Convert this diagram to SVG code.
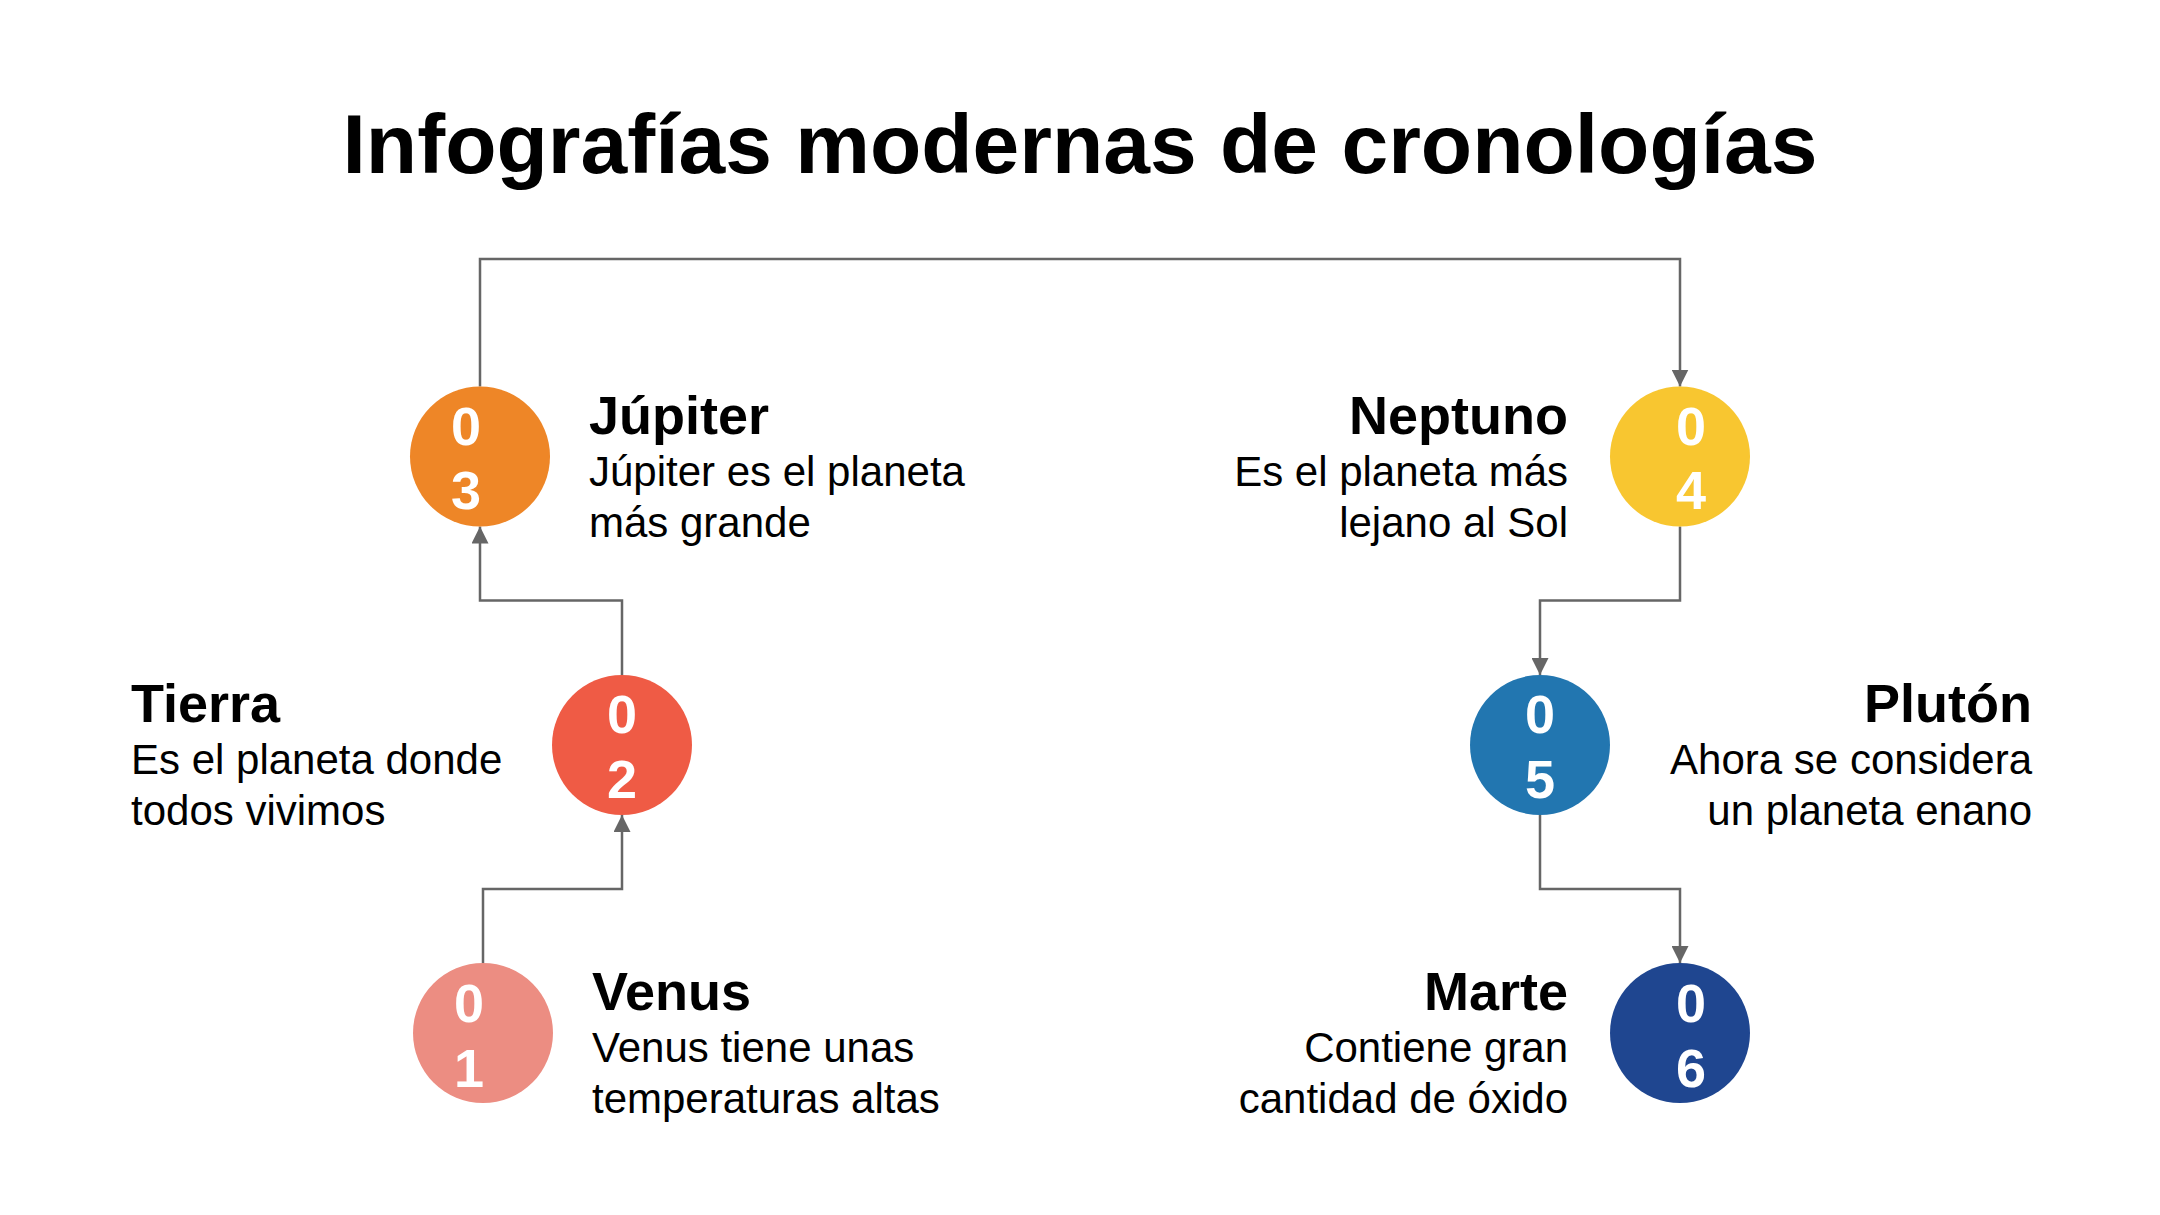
<svg xmlns="http://www.w3.org/2000/svg" width="2160" height="1215" viewBox="0 0 2160 1215">
  <defs>
    <marker id="arr" markerUnits="userSpaceOnUse" markerWidth="17" markerHeight="17" viewBox="0 0 16 16" refX="16" refY="8" orient="auto">
      <path d="M0,0 L16,8 L0,16 z" fill="#666666"/>
    </marker>
    <style>
      .title { font-family: "Liberation Sans", Arial, sans-serif; font-weight: bold; font-size: 84px; fill: #000; }
      .head { font-family: "Liberation Sans", Arial, sans-serif; font-weight: bold; font-size: 54px; fill: #000; }
      .desc { font-family: "Liberation Sans", Arial, sans-serif; font-size: 42px; fill: #000; }
      .num { font-family: "Liberation Sans", Arial, sans-serif; font-weight: bold; font-size: 54px; fill: #fff; text-anchor: middle; }
      .end { text-anchor: end; }
      .conn { fill: none; stroke: #666666; stroke-width: 2.5; marker-end: url(#arr); }
    </style>
  </defs>
  <rect width="2160" height="1215" fill="#ffffff"/>
  <text class="title" x="1080" y="173" text-anchor="middle">Infografías modernas de cronologías</text>

  <g id="connectors">
    <path class="conn" d="M483,963 V889 H622 V815"/>
    <path class="conn" d="M622,675 V600.5 H480 V526.5"/>
    <path class="conn" d="M480,386.5 V259 H1680 V386.5"/>
    <path class="conn" d="M1680,526.5 V600.5 H1540 V675"/>
    <path class="conn" d="M1540,815 V889 H1680 V963"/>
  </g>

  <g id="node-01">
    <circle cx="483" cy="1033" r="70" fill="#EC8D82"/>
    <text class="num" x="469" y="1022">0</text>
    <text class="num" x="469" y="1087">1</text>
    <text class="head" x="592" y="1010">Venus</text>
    <text class="desc" x="592" y="1062">Venus tiene unas</text>
    <text class="desc" x="592" y="1113">temperaturas altas</text>
  </g>

  <g id="node-02">
    <circle cx="622" cy="745" r="70" fill="#EF5B45"/>
    <text class="num" x="622" y="733">0</text>
    <text class="num" x="622" y="798">2</text>
    <text class="head" x="131" y="722">Tierra</text>
    <text class="desc" x="131" y="774">Es el planeta donde</text>
    <text class="desc" x="131" y="825">todos vivimos</text>
  </g>

  <g id="node-03">
    <circle cx="480" cy="456.5" r="70" fill="#EE8627"/>
    <text class="num" x="466" y="445">0</text>
    <text class="num" x="466" y="509">3</text>
    <text class="head" x="589" y="433.5">Júpiter</text>
    <text class="desc" x="589" y="485.5">Júpiter es el planeta</text>
    <text class="desc" x="589" y="536.5">más grande</text>
  </g>

  <g id="node-04">
    <circle cx="1680" cy="456.5" r="70" fill="#F8C630"/>
    <text class="num" x="1691" y="445">0</text>
    <text class="num" x="1691" y="509">4</text>
    <text class="head end" x="1568" y="433.5">Neptuno</text>
    <text class="desc end" x="1568" y="485.5">Es el planeta más</text>
    <text class="desc end" x="1568" y="536.5">lejano al Sol</text>
  </g>

  <g id="node-05">
    <circle cx="1540" cy="745" r="70" fill="#2276B0"/>
    <text class="num" x="1540" y="733">0</text>
    <text class="num" x="1540" y="798">5</text>
    <text class="head end" x="2032" y="722">Plutón</text>
    <text class="desc end" x="2032" y="774">Ahora se considera</text>
    <text class="desc end" x="2032" y="825">un planeta enano</text>
  </g>

  <g id="node-06">
    <circle cx="1680" cy="1033" r="70" fill="#1F4690"/>
    <text class="num" x="1691" y="1022">0</text>
    <text class="num" x="1691" y="1087">6</text>
    <text class="head end" x="1568" y="1010">Marte</text>
    <text class="desc end" x="1568" y="1062">Contiene gran</text>
    <text class="desc end" x="1568" y="1113">cantidad de óxido</text>
  </g>
</svg>
